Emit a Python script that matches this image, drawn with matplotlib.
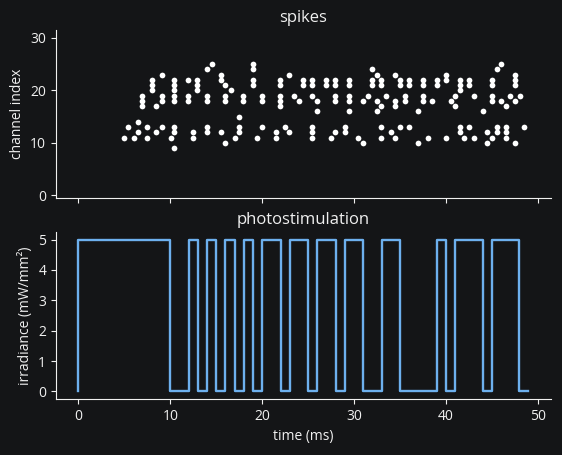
import matplotlib
matplotlib.use("Agg")
import matplotlib.pyplot as plt

# spike raster: time (ms) -> channels that fired
spike_times = [5.0, 5.43, 6.02, 6.52, 6.96, 7.5, 7.98, 8.48, 9.06, 10.04,
               10.45, 11.96, 12.5, 12.95, 14.02, 14.5, 15.47, 15.98, 16.56, 17.0,
               17.5, 17.93, 19.0, 19.46, 20.0, 21.52, 21.92, 22.5, 22.93, 23.48,
               24.02, 24.43, 25.46, 25.98, 26.98, 27.5, 27.98, 29.02, 29.45, 30.43,
               30.98, 31.52, 31.96, 32.5, 32.98, 33.48, 34.05, 34.45, 34.98, 35.55,
               35.98, 36.97, 37.5, 38.04, 38.48, 39.02, 40.0, 40.57, 40.99, 41.52,
               42.0, 42.5, 43.04, 44.02, 44.48, 45.0, 45.54, 45.98, 46.52, 47.0,
               47.5, 48.04, 48.48]
spike_channels = [[11], [13], [11], [14, 12], [19, 18, 17], [13, 11], [22, 21, 20], [17, 12],
                  [23, 19, 18, 13], [11],
                  [22, 21, 20, 19, 18, 13, 12, 9], [22, 19, 18], [12, 11], [22, 21, 20],
                  [24, 19, 18, 13, 12], [25], [23, 22, 12], [21, 19, 18, 10], [20], [11],
                  [15, 13, 12], [19, 18], [25, 24, 22, 21], [11], [19, 18, 13], [12, 11],
                  [22, 21, 19, 18, 17], [13], [23, 12], [19],
                  [18], [22, 21], [22, 21, 19, 13, 12, 11], [18, 16], [22, 21], [11],
                  [22, 21, 19, 18, 12], [13, 12], [22, 21, 19, 18, 16], [11],
                  [18, 10], [19], [24, 22, 21], [23, 18, 16], [22, 21, 17, 13, 11], [19],
                  [12], [23, 18, 17, 11], [22, 21, 13], [19, 18],
                  [22, 21, 13], [16, 10], [22, 21, 19, 18], [11], [18], [22, 21],
                  [23, 22, 11], [18], [19, 17], [22, 21, 20, 13, 12],
                  [11], [22, 21, 13], [19, 11], [16], [12, 10], [22, 21, 19, 18, 11],
                  [24, 13, 12], [25, 18], [17, 13, 12, 11], [19],
                  [23, 22, 21, 18, 10], [19], [13]]

# photostimulation, 1 ms bins
stim_t = list(range(50))
stim_irr = [0, 5, 5, 5, 5, 5, 5, 5, 5, 5, 5, 0, 0, 5, 0, 5, 0, 5, 0, 5,
            0, 5, 5, 0, 5, 5, 0, 5, 5, 0, 5, 5, 0, 0, 5, 5, 0, 0, 0, 0,
            5, 0, 5, 5, 5, 0, 5, 5, 5, 0]

bg = "#141517"
fg = "#f0f0f0"
plt.rcParams["font.family"] = ["Open Sans", "DejaVu Sans"]
plt.rcParams["font.size"] = 10

st, sc = [], []
for t, chs in zip(spike_times, spike_channels):
    for c in chs:
        st.append(t)
        sc.append(c)

fig = plt.figure(figsize=(5.62, 4.55), dpi=100, facecolor=bg)
ax1 = fig.add_axes([0.0996, 0.5648, 0.8808, 0.3692])
ax2 = fig.add_axes([0.0996, 0.1231, 0.8808, 0.3670], sharex=ax1)

ax1.scatter(st, sc, s=17, color="white", linewidths=0)
ax1.set_ylim(-0.5, 31.5)
ax1.set_yticks([0, 10, 20, 30])
ax1.set_ylabel("channel index", color=fg)
ax1.set_title("spikes", color=fg, fontsize=12)
ax1.tick_params(labelbottom=False)

ax2.step(stim_t, stim_irr, where="pre", color="#6db0ee", lw=1.7)
ax2.set_yticks(range(6))
ax2.set_xticks([0, 10, 20, 30, 40, 50])
ax2.set_xlabel("time (ms)", color=fg)
ax2.set_ylabel("irradiance (mW/mm²)", color=fg)
ax2.set_title("photostimulation", color=fg, fontsize=12)

for ax in (ax1, ax2):
    ax.set_facecolor(bg)
    for s in ("top", "right"):
        ax.spines[s].set_visible(False)
    for s in ("left", "bottom"):
        ax.spines[s].set_color(fg)
    ax.tick_params(colors=fg, labelsize=10)

fig.savefig("out.png", dpi=100, facecolor=bg)
